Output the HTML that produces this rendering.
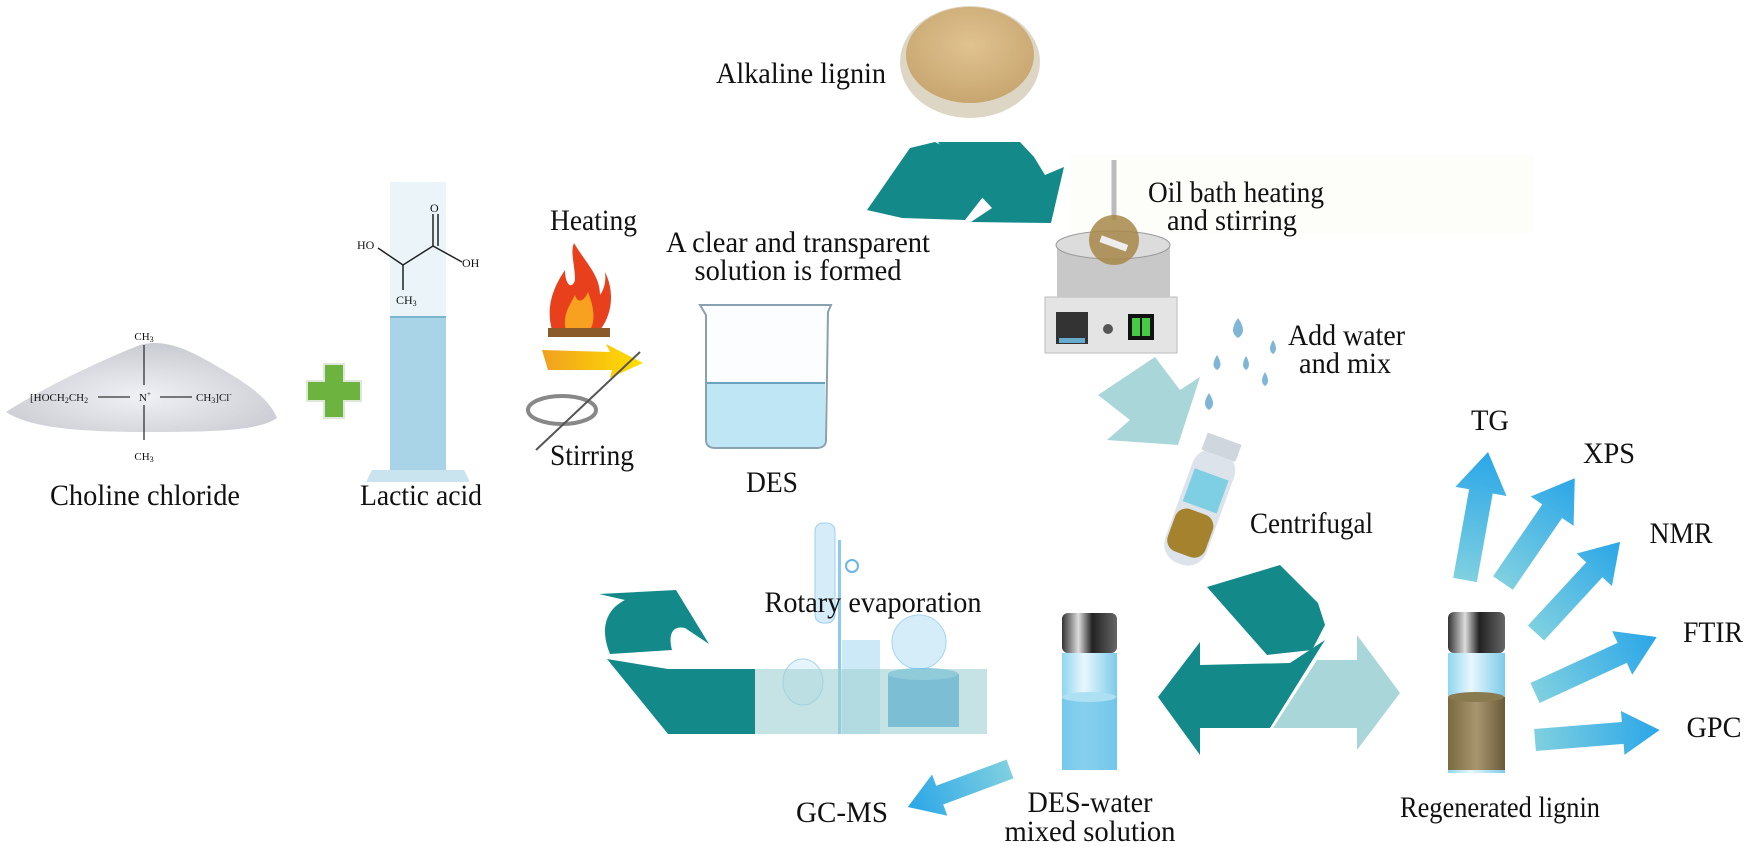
<!DOCTYPE html>
<html><head><meta charset="utf-8"><style>
html,body{margin:0;padding:0;background:#fff;}
svg{display:block;}
text{font-family:"Liberation Serif",serif;fill:#111;}
</style></head><body>
<svg width="1750" height="847" viewBox="0 0 1750 847" xmlns="http://www.w3.org/2000/svg">
<defs>
<linearGradient id="blu" x1="0" y1="0" x2="1" y2="0"><stop offset="0" stop-color="#7fd0e0"/><stop offset="1" stop-color="#2aa6e8"/></linearGradient>
<linearGradient id="yel" x1="0" y1="0" x2="1" y2="0"><stop offset="0" stop-color="#f0a020"/><stop offset="1" stop-color="#ffe000"/></linearGradient>
<linearGradient id="cap" x1="0" y1="0" x2="1" y2="0"><stop offset="0" stop-color="#333"/><stop offset=".3" stop-color="#ddd"/><stop offset=".55" stop-color="#222"/><stop offset="1" stop-color="#666"/></linearGradient>
<linearGradient id="glass" x1="0" y1="0" x2="1" y2="0"><stop offset="0" stop-color="#8fd6f0"/><stop offset=".4" stop-color="#e8f7fc"/><stop offset="1" stop-color="#7ccbea"/></linearGradient>
<linearGradient id="brown" x1="0" y1="0" x2="1" y2="0"><stop offset="0" stop-color="#7a6a40"/><stop offset=".5" stop-color="#a89670"/><stop offset="1" stop-color="#6a5a38"/></linearGradient>
<radialGradient id="powder" cx=".5" cy=".6" r=".6"><stop offset="0" stop-color="#f0f1f5"/><stop offset="1" stop-color="#c9cbd2"/></radialGradient>
<radialGradient id="lig" cx=".5" cy=".4" r=".6"><stop offset="0" stop-color="#e0c390"/><stop offset="1" stop-color="#c8a670"/></radialGradient>
</defs>
<g font-size="30" lengthAdjust="spacingAndGlyphs">
<rect x="1070" y="155" width="463" height="78" fill="#fdfdfa"/>

<path d="M6,412 C40,390 90,365 140,345 C165,338 190,350 220,368 C250,385 270,400 277,418 C260,430 220,432 150,432 C80,432 30,428 6,412 Z" fill="url(#powder)"/>
<line x1="144" y1="345" x2="144" y2="385" stroke="#333" stroke-width="1.3"/>
<line x1="144" y1="405" x2="144" y2="440" stroke="#333" stroke-width="1.3"/>
<line x1="98" y1="397" x2="130" y2="397" stroke="#333" stroke-width="1.3"/>
<line x1="160" y1="397" x2="192" y2="397" stroke="#333" stroke-width="1.3"/>
<text x="144" y="340" font-size="11" text-anchor="middle">CH<tspan font-size="8" dy="2">3</tspan></text>
<text x="144" y="460" font-size="11" text-anchor="middle">CH<tspan font-size="8" dy="2">3</tspan></text>
<text x="30" y="401" font-size="11">[HOCH<tspan font-size="8" dy="2">2</tspan><tspan dy="-2">CH</tspan><tspan font-size="8" dy="2">2</tspan></text>
<text x="139" y="401" font-size="11">N<tspan font-size="7" dy="-5">+</tspan></text>
<text x="196" y="401" font-size="11">CH<tspan font-size="8" dy="2">3</tspan><tspan dy="-2">]Cl</tspan><tspan font-size="7" dy="-5">-</tspan></text>
<text x="145" y="505" text-anchor="middle" textLength="190" lengthAdjust="spacingAndGlyphs">Choline chloride</text>

<path d="M324,364 h20 v17 h17 v20 h-17 v17 h-20 v-17 h-17 v-20 h17 z" fill="#6db33f" stroke="#dfe8d8" stroke-width="2"/>

<rect x="390" y="182" width="56" height="290" fill="#e6f3f8" opacity=".8"/>
<rect x="390" y="317" width="56" height="155" fill="#a9d3e6"/>
<line x1="390" y1="317" x2="446" y2="317" stroke="#7ab6d0" stroke-width="2"/>
<path d="M372,470 L464,470 L470,482 L366,482 Z" fill="#c9e3ef"/>
<g stroke="#222" stroke-width="1.5" fill="none">
<polyline points="378,248 403,265 433,246 462,262"/>
<line x1="433" y1="246" x2="433" y2="214"/><line x1="438" y1="246" x2="438" y2="214"/>
<line x1="403" y1="265" x2="403" y2="290"/>
</g>
<text x="357" y="249" font-size="12" font-family="Liberation Sans">HO</text>
<text x="430" y="212" font-size="12" font-family="Liberation Sans">O</text>
<text x="462" y="267" font-size="12" font-family="Liberation Sans">OH</text>
<text x="396" y="304" font-size="12" font-family="Liberation Sans">CH<tspan font-size="8" dy="2">3</tspan></text>
<text x="421" y="505" text-anchor="middle" textLength="122" lengthAdjust="spacingAndGlyphs">Lactic acid</text>

<text x="550" y="230" textLength="87" lengthAdjust="spacingAndGlyphs">Heating</text>
<path d="M552,330 C545,305 555,285 565,270 C565,285 572,290 575,280 C575,265 570,252 574,243 C585,262 600,275 600,295 C605,288 606,280 605,272 C615,292 612,315 600,330 Z" fill="#e8401c"/>
<path d="M566,330 C562,315 570,305 575,295 C578,305 585,300 588,292 C595,310 595,322 590,330 Z" fill="#f8a020"/>
<path d="M548,328 h62 v9 h-62 z" fill="#8a5a2a"/>
<path d="M542,350 L610,352 L606,344 L643,363 L610,378 L612,370 L548,370 Z" fill="url(#yel)"/>
<ellipse cx="562" cy="410" rx="34" ry="14" fill="none" stroke="#888" stroke-width="4"/>
<line x1="536" y1="450" x2="640" y2="352" stroke="#555" stroke-width="2"/>
<text x="550" y="465" textLength="84" lengthAdjust="spacingAndGlyphs">Stirring</text>

<text x="798" y="252" text-anchor="middle" textLength="264" lengthAdjust="spacingAndGlyphs">A clear and transparent</text>
<text x="798" y="280" text-anchor="middle" textLength="207" lengthAdjust="spacingAndGlyphs">solution is formed</text>
<path d="M700,305 L831,305 L828,312 L826,440 Q826,448 816,448 L716,448 Q706,448 706,440 L706,315 Z" fill="#fbfdff" stroke="#8aa2b0" stroke-width="2"/>
<path d="M707,383 L825,383 L825,440 Q825,447 816,447 L716,447 Q707,447 707,440 Z" fill="#bfe6f5"/>
<line x1="707" y1="383" x2="825" y2="383" stroke="#6aa2c0" stroke-width="2"/>
<text x="772" y="492" text-anchor="middle" textLength="52" lengthAdjust="spacingAndGlyphs">DES</text>

<text x="716" y="83" textLength="170" lengthAdjust="spacingAndGlyphs">Alkaline lignin</text>
<ellipse cx="970" cy="62" rx="70" ry="56" fill="#ddd6c4"/>
<ellipse cx="970" cy="55" rx="64" ry="48" fill="url(#lig)"/>

<path d="M867,210 L910,148 L935,142 L1000,175 L965,220 L902,218 Z" fill="#14898a"/>
<path d="M938,142 L1020,142 L1034,157 L1045,175 L1064,167 L1051,223 L971,222 L992,208 L963,177 Z" fill="#14898a"/>

<rect x="1045" y="297" width="132" height="56" fill="#e4e4e4" stroke="#bbb"/>
<rect x="1057" y="245" width="113" height="52" fill="#c8c8c8"/>
<ellipse cx="1113" cy="245" rx="57" ry="14" fill="#dcdcdc" stroke="#999"/>
<line x1="1114" y1="160" x2="1114" y2="220" stroke="#bbb" stroke-width="5"/>
<circle cx="1114" cy="240" r="25" fill="#a8874a" opacity=".85"/>
<rect x="1100" y="240" width="28" height="7" fill="#eee" transform="rotate(20 1114 243)"/>
<rect x="1056" y="312" width="32" height="32" fill="#333"/>
<rect x="1059" y="338" width="26" height="5" fill="#6ac"/>
<circle cx="1108" cy="329" r="5" fill="#555"/>
<rect x="1128" y="314" width="26" height="26" fill="#111"/>
<rect x="1132" y="318" width="8" height="18" fill="#4c4"/><rect x="1142" y="318" width="8" height="18" fill="#4c4"/>
<text x="1148" y="202" textLength="176" lengthAdjust="spacingAndGlyphs">Oil bath heating</text>
<text x="1167" y="230" textLength="130" lengthAdjust="spacingAndGlyphs">and stirring</text>

<g fill="#7fb6d6">
<path d="M1238,318 q10,14 0,20 q-10,-6 0,-20z"/>
<path d="M1273,340 q6,10 0,14 q-6,-4 0,-14z"/>
<path d="M1217,355 q7,11 0,15 q-7,-4 0,-15z"/>
<path d="M1246,356 q6,10 0,14 q-6,-4 0,-14z"/>
<path d="M1265,372 q6,10 0,14 q-6,-4 0,-14z"/>
<path d="M1209,393 q8,12 0,17 q-8,-5 0,-17z"/>
</g>
<text x="1288" y="345" textLength="117" lengthAdjust="spacingAndGlyphs">Add water</text>
<text x="1299" y="373" textLength="92" lengthAdjust="spacingAndGlyphs">and mix</text>

<path d="M1098,395 L1155,357 L1180,390 L1200,377 L1178,445 L1107,440 L1130,420 Z" fill="#a9d6d8"/>

<g transform="translate(1198,512) rotate(20)">
<rect x="-22" y="-65" width="44" height="120" rx="20" fill="#dde3ea"/>
<rect x="-18" y="-78" width="36" height="18" fill="#d0d6de"/>
<rect x="-18" y="-40" width="36" height="35" fill="#7fcfe4"/>
<rect x="-20" y="0" width="40" height="45" rx="12" fill="#a5822e"/>
</g>
<text x="1250" y="533" textLength="123" lengthAdjust="spacingAndGlyphs">Centrifugal</text>

<path d="M1273,728 L1317,660 L1357,660 L1357,635 L1400,693 L1357,750 L1357,728 Z" fill="#a9d6d8"/>
<path d="M1207,587 L1280,565 L1318,603 L1325,625 L1312,650 L1267,655 Z" fill="#14898a"/>
<path d="M1158,697 L1200,642 L1200,665 L1290,663 L1325,640 L1270,728 L1200,728 L1200,755 Z" fill="#14898a"/>

<rect x="1062" y="653" width="55" height="117" fill="url(#glass)"/>
<rect x="1062" y="697" width="55" height="73" fill="#6fc6ea" opacity=".8"/>
<ellipse cx="1089" cy="697" rx="27" ry="5" fill="#aee0f3"/>
<rect x="1062" y="613" width="55" height="40" rx="6" fill="url(#cap)"/>
<text x="1090" y="812" text-anchor="middle" textLength="125" lengthAdjust="spacingAndGlyphs">DES-water</text>
<text x="1090" y="841" text-anchor="middle" textLength="171" lengthAdjust="spacingAndGlyphs">mixed solution</text>

<rect x="1448" y="653" width="57" height="120" fill="url(#glass)"/>
<rect x="1448" y="697" width="57" height="73" fill="url(#brown)"/>
<ellipse cx="1476" cy="697" rx="28" ry="5" fill="#8a7a50"/>
<rect x="1448" y="612" width="57" height="41" rx="6" fill="url(#cap)"/>
<text x="1500" y="817" text-anchor="middle" textLength="200" lengthAdjust="spacingAndGlyphs">Regenerated lignin</text>

<g fill="url(#blu)">
<g transform="translate(1465,580) rotate(-79.8)"><polygon points="0,-12 90,-12 90,-26 130,0 90,26 90,12 0,12"/></g>
<g transform="translate(1503,583) rotate(-55.6)"><polygon points="0,-12 87,-12 87,-26 127,0 87,26 87,12 0,12"/></g>
<g transform="translate(1536,633) rotate(-47.3)"><polygon points="0,-11 86,-11 86,-24 124,0 86,24 86,11 0,11"/></g>
<g transform="translate(1535,693) rotate(-24.7)"><polygon points="0,-11 96,-11 96,-24 134,0 96,24 96,11 0,11"/></g>
<g transform="translate(1535,740) rotate(-4.6)"><polygon points="0,-11 88,-11 88,-22 125,0 88,22 88,11 0,11"/></g>
<g transform="translate(1010,769) rotate(159.6)"><polygon points="0,-10 75,-10 75,-22 109,0 75,22 75,10 0,10"/></g>
</g>
<text x="1490" y="430" text-anchor="middle" textLength="38" lengthAdjust="spacingAndGlyphs">TG</text>
<text x="1609" y="463" text-anchor="middle" textLength="52" lengthAdjust="spacingAndGlyphs">XPS</text>
<text x="1681" y="543" text-anchor="middle" textLength="63" lengthAdjust="spacingAndGlyphs">NMR</text>
<text x="1713" y="642" text-anchor="middle" textLength="60" lengthAdjust="spacingAndGlyphs">FTIR</text>
<text x="1714" y="737" text-anchor="middle" textLength="55" lengthAdjust="spacingAndGlyphs">GPC</text>
<text x="842" y="822" text-anchor="middle" textLength="92" lengthAdjust="spacingAndGlyphs">GC-MS</text>

<path d="M607,659 L668,669 L755,669 L755,734 L668,734 Z" fill="#14898a"/>
<path d="M610,654 C600,630 605,610 625,600 L599,594 L676,590 L709,644 L685,628 C672,625 668,635 672,650 Z" fill="#14898a"/>
<rect x="815" y="523" width="20" height="100" rx="8" fill="#d6ecf8" stroke="#9cd0ee"/>
<rect x="838" y="540" width="3" height="194" fill="#8ccaf0"/>
<circle cx="852" cy="566" r="6" fill="none" stroke="#6ab6e6" stroke-width="2"/>
<rect x="842" y="640" width="38" height="94" fill="#bfe3f5" opacity=".8"/>
<ellipse cx="803" cy="682" rx="20" ry="23" fill="#e6f4fb" stroke="#a6d6ee"/>
<circle cx="919" cy="642" r="27" fill="#d4edf9" stroke="#a6d6ee"/>
<rect x="888" y="674" width="71" height="53" fill="#4aa6d8"/>
<ellipse cx="923" cy="674" rx="35" ry="6" fill="#7cc2e6"/>
<rect x="755" y="669" width="232" height="65" fill="#9fd0d2" opacity=".6"/>
<text x="873" y="612" text-anchor="middle" textLength="217" lengthAdjust="spacingAndGlyphs">Rotary evaporation</text>
</g>
</svg>
</body></html>
